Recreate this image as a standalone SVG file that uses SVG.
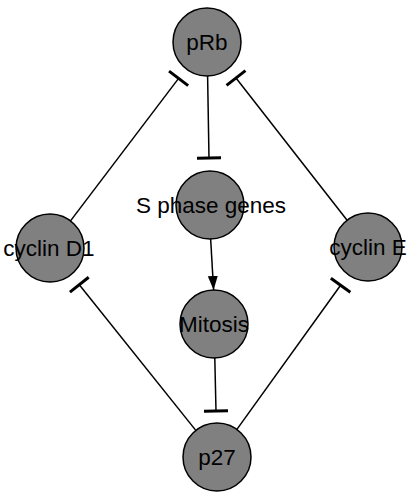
<svg xmlns="http://www.w3.org/2000/svg" width="417" height="497" viewBox="0 0 417 497">
<style>
.node circle{fill:#808080;stroke:#000;stroke-width:1.5}
.node text{font-family:"Liberation Sans",Arial,sans-serif;font-size:22.5px;fill:#000;text-anchor:middle}
.edges line{stroke:#000;stroke-width:1.5;fill:none}
.inh{marker-end:url(#bar)}
.act{marker-end:url(#arrow)}
</style>
<defs>
<marker id="bar" markerUnits="userSpaceOnUse" markerWidth="6" markerHeight="28" viewBox="-3 -14 6 28" refX="0" refY="0" orient="auto">
<line x1="0" y1="-12" x2="0" y2="12" stroke="#000" stroke-width="3"/>
</marker>
<marker id="arrow" markerUnits="userSpaceOnUse" markerWidth="14" markerHeight="12" viewBox="0 -6 14 12" refX="14" refY="0" orient="auto">
<path d="M0,-5 L14,0 L0,5 Z" fill="#000"/>
</marker>
</defs>
<rect width="417" height="497" fill="#fff"/>
<g id="edges" class="edges">
<line class="inh" x1="207.6" y1="76" x2="209" y2="158"/>
<line class="act" x1="210.6" y1="238" x2="213.6" y2="290"/>
<line class="inh" x1="214.8" y1="358" x2="216" y2="411"/>
<line class="inh" x1="70.5" y1="220.9" x2="178.6" y2="78.4"/>
<line class="inh" x1="347.1" y1="220.2" x2="236" y2="78"/>
<line class="inh" x1="195.8" y1="430.4" x2="79.3" y2="284.7"/>
<line class="inh" x1="236.9" y1="429.4" x2="340.6" y2="285.2"/>
</g>
<g id="pRb" class="node"><circle cx="207" cy="42" r="34"/><text x="207" y="50">pRb</text></g>
<g id="S_phase_genes" class="node"><circle cx="210" cy="205" r="34"/><text x="211" y="213">S phase genes</text></g>
<g id="Mitosis" class="node"><circle cx="214" cy="324" r="34"/><text x="214" y="332">Mitosis</text></g>
<g id="p27" class="node"><circle cx="217" cy="457" r="34"/><text x="217" y="465">p27</text></g>
<g id="cyclin_D1" class="node"><circle cx="50" cy="248" r="34"/><text x="49" y="256">cyclin D1</text></g>
<g id="cyclin_E" class="node"><circle cx="368" cy="247" r="34"/><text x="368" y="255">cyclin E</text></g>
</svg>
